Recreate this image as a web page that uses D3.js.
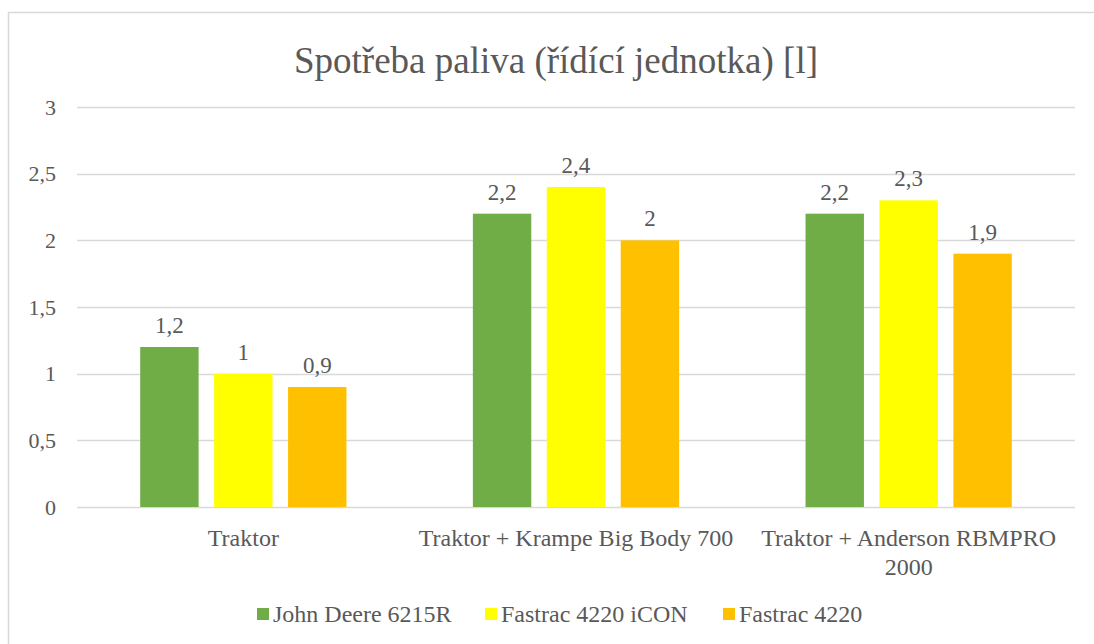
<!DOCTYPE html>
<html><head><meta charset="utf-8">
<script src="https://cdn.jsdelivr.net/npm/d3@7"></script></head>
<body style="margin:0">
<svg id="chart" width="1094" height="644" style="display:block;font-family:'Liberation Serif', 'Times New Roman', serif"></svg>
<script>
const title = "Spotřeba paliva (řídící jednotka) [l]";
const categories = [["Traktor"], ["Traktor + Krampe Big Body 700"], ["Traktor + Anderson RBMPRO", "2000"]];
const seriesNames = ["John Deere 6215R", "Fastrac 4220 iCON", "Fastrac 4220"];
const seriesColors = ["#70AD47", "#FFFF00", "#FFC000"];
const johnDeere = [1.2, 2.2, 2.2];
const fastracIcon = [1.0, 2.4, 2.3];
const fastrac = [0.9, 2.0, 1.9];
const yTicks = [0, 0.5, 1, 1.5, 2, 2.5, 3];

const seriesValues = [johnDeere, fastracIcon, fastrac];
const fmt = v => String(v).replace(".", ",");
const FONT = "'Liberation Serif', 'Times New Roman', serif";

const svg = d3.select("#chart");

svg.append("path")
  .attr("d", "M8.5,644 L8.5,12.5 L1094,12.5")
  .attr("fill", "none")
  .attr("stroke", "#d9d9d9")
  .attr("stroke-width", 1.5);

const plot = { left: 77, right: 1075, top: 107, bottom: 507 };

const y = d3.scaleLinear().domain([0, 3]).range([plot.bottom, plot.top]);
const x0 = d3.scaleBand().domain(d3.range(categories.length)).range([plot.left, plot.right]).padding(0);
const bw = x0.bandwidth();
const x1 = d3.scaleBand().domain(d3.range(seriesNames.length))
  .range([bw * 0.19, bw * 0.81]).paddingInner(0.21).paddingOuter(0);

function txt(sel, size) {
  return sel.style("font-family", FONT).attr("font-size", size).attr("fill", "#595959");
}

txt(svg.append("text"), 37)
  .attr("x", 556)
  .attr("y", 73)
  .attr("text-anchor", "middle")
  .text(title);

svg.append("g").selectAll("line").data(yTicks).join("line")
  .attr("x1", plot.left).attr("x2", plot.right)
  .attr("y1", d => Math.round(y(d)) + 0.5).attr("y2", d => Math.round(y(d)) + 0.5)
  .attr("stroke", "#d9d9d9").attr("stroke-width", 1.5);

const yAxis = d3.axisLeft(y).tickValues(yTicks).tickFormat(fmt).tickSize(0).tickPadding(0);
const ga = svg.append("g").attr("transform", `translate(${plot.left - 21},0)`).call(yAxis);
ga.attr("font-family", null).attr("font-size", null);
ga.select(".domain").remove();
txt(ga.selectAll("text"), 22);

const groups = svg.append("g").selectAll("g").data(categories).join("g")
  .attr("transform", (d, i) => `translate(${x0(i)},0)`);

groups.each(function(cat, ci) {
  const g = d3.select(this);
  seriesValues.forEach((vals, si) => {
    const v = vals[ci];
    g.append("rect")
      .attr("x", x1(si))
      .attr("y", y(v))
      .attr("width", x1.bandwidth())
      .attr("height", y(0) - y(v))
      .attr("fill", seriesColors[si]);
    txt(g.append("text"), 23)
      .attr("x", x1(si) + x1.bandwidth() / 2)
      .attr("y", y(v) - 14)
      .attr("text-anchor", "middle")
      .text(fmt(v));
  });
  const t = txt(g.append("text"), 24).attr("text-anchor", "middle");
  cat.forEach((line, li) => {
    t.append("tspan")
      .attr("x", bw / 2)
      .attr("y", 546 + li * 29)
      .text(line);
  });
});

const legendX = [257, 485, 723];
const lg = svg.append("g");
seriesNames.forEach((name, i) => {
  const lx = legendX[i];
  lg.append("rect").attr("x", lx).attr("y", 608).attr("width", 12).attr("height", 12)
    .attr("fill", seriesColors[i]);
  txt(lg.append("text"), 24).attr("x", lx + 16).attr("y", 622).text(name);
});
</script>
</body></html>
